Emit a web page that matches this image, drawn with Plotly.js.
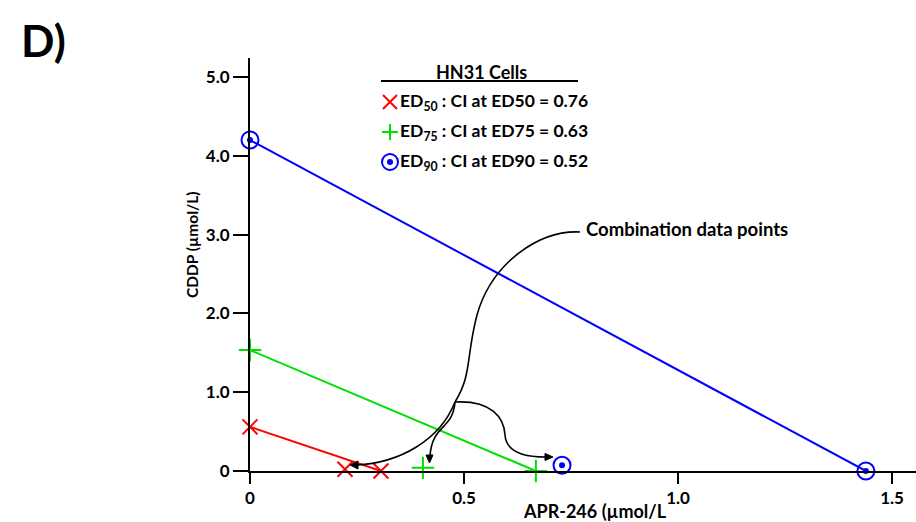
<!DOCTYPE html>
<html>
<head>
<meta charset="utf-8">
<script src="https://cdn.plot.ly/plotly-3.0.1.min.js"></script>
<style>html,body{margin:0;padding:0;background:#fff;}#chart{width:916px;height:522px;}</style>
</head>
<body>
<div id="chart"></div>
<script>
// ---- data (µmol/L) ----
const ed50Apr = [0, 0.306];      // isobologram line ED50: APR-246 alone
const ed50Cddp = [0.56, 0];      // CDDP alone
const ed75Apr = [0, 0.668];
const ed75Cddp = [1.535, 0];
const ed90Apr = [0, 1.439];
const ed90Cddp = [4.2, 0];
const comboApr = [0.222, 0.404, 0.729];   // combination data points ED50, ED75, ED90
const comboCddp = [0.022, 0.040, 0.073];
const ciValues = ['0.76', '0.63', '0.52'];
const edLevels = ['50', '75', '90'];
const yTickVals = [0, 1, 2, 3, 4, 5];
const yTickText = ['0', '1.0', '2.0', '3.0', '4.0', '5.0'];
const xTickVals = [0, 0.5, 1.0, 1.5];
const xTickText = ['0', '0.5', '1.0', '1.5'];

const colors = ['#ff0000', '#00e000', '#0000ff'];
const symbols = ['x-thin-open', 'cross-thin-open', 'circle-open'];
const sizes = [15, 16, 17];

const W = 916, H = 522;
const M = {l: 250, r: 0, t: 58, b: 51};
const pw = W - M.l - M.r, ph = H - M.t - M.b;
const FONT = 'Lato, "Open Sans", sans-serif';
function px(x) { return (x - M.l) / pw; }
function py(y) { return (H - M.b - y) / ph; }
function path(segs) {
  return segs.map(s => {
    const c = s[0]; const pts = [];
    for (let i = 1; i < s.length; i += 2) pts.push(px(s[i]).toFixed(4) + ',' + py(s[i+1]).toFixed(4));
    return c + pts.join(' ');
  }).join(' ');
}
function bold(size) { return {family: FONT, size: size, color: '#000', weight: 'bold'}; }

const lines = [[ed50Apr, ed50Cddp], [ed75Apr, ed75Cddp], [ed90Apr, ed90Cddp]];
const traces = [];
lines.forEach((l, i) => {
  const allX = l[0].concat([comboApr[i]]);
  const allY = l[1].concat([comboCddp[i]]);
  traces.push({
    x: l[0], y: l[1], type: 'scatter', mode: 'lines', cliponaxis: false,
    line: {color: colors[i], width: 2}, hoverinfo: 'skip', showlegend: false
  });
  traces.push({
    x: allX, y: allY, type: 'scatter', mode: 'markers', cliponaxis: false,
    marker: {symbol: symbols[i], size: sizes[i], color: colors[i], line: {color: colors[i], width: 2}},
    hoverinfo: 'skip', showlegend: false
  });
  if (i === 2) {
    traces.push({
      x: allX, y: allY, type: 'scatter', mode: 'markers', cliponaxis: false,
      marker: {symbol: 'circle', size: 6, color: colors[i], line: {width: 0}},
      hoverinfo: 'skip', showlegend: false
    });
  }
});

const shapes = [];
const annotations = [];
// legend header
annotations.push({xref: 'paper', yref: 'paper', x: px(481), y: py(72), text: 'HN31 Cells', showarrow: false,
  font: bold(18), xanchor: 'center', yanchor: 'middle'});
shapes.push({type: 'line', xref: 'paper', yref: 'paper', x0: px(381), x1: px(578), y0: py(81), y1: py(81),
  line: {color: '#000', width: 2}});
const rowsY = [102, 132, 162];
edLevels.forEach((ed, i) => {
  const cy = rowsY[i], cx = 390;
  if (i === 0) {
    shapes.push({type: 'path', xref: 'paper', yref: 'paper', path: path([['M', cx-7, cy-7], ['L', cx+7, cy+7], ['M', cx-7, cy+7], ['L', cx+7, cy-7]]), line: {color: colors[0], width: 2}});
  } else if (i === 1) {
    shapes.push({type: 'path', xref: 'paper', yref: 'paper', path: path([['M', cx-8, cy], ['L', cx+8, cy], ['M', cx, cy-8], ['L', cx, cy+8]]), line: {color: colors[1], width: 2}});
  } else {
    shapes.push({type: 'circle', xref: 'paper', yref: 'paper', x0: px(cx-8), x1: px(cx+8), y0: py(cy-8), y1: py(cy+8), line: {color: colors[2], width: 2}});
    shapes.push({type: 'circle', xref: 'paper', yref: 'paper', x0: px(cx-3), x1: px(cx+3), y0: py(cy-3), y1: py(cy+3), fillcolor: colors[2], line: {color: colors[2], width: 0}});
  }
  annotations.push({xref: 'paper', yref: 'paper', x: px(398), y: py(cy), xanchor: 'left', yanchor: 'middle', showarrow: false,
    text: 'ED<sub>' + ed + '</sub> : CI at ED' + ed + ' = ' + ciValues[i], font: bold(17.5)});
});

// combination annotation
annotations.push({xref: 'paper', yref: 'paper', x: px(584), y: py(229), xanchor: 'left', yanchor: 'middle', showarrow: false,
  text: 'Combination data points', font: bold(18.5)});
const blk = {color: '#000', width: 1.6};
shapes.push({type: 'path', xref: 'paper', yref: 'paper', line: blk,
  path: path([['M', 580, 232], ['C', 540, 230, 492, 262, 477, 315], ['C', 466, 357, 472, 375, 455, 402]])});
shapes.push({type: 'path', xref: 'paper', yref: 'paper', line: blk,
  path: path([['M', 455, 402], ['C', 440, 440, 400, 463, 356, 465]])});
shapes.push({type: 'path', xref: 'paper', yref: 'paper', line: blk,
  path: path([['M', 455, 402], ['C', 453, 430, 432, 424, 430, 456]])});
shapes.push({type: 'path', xref: 'paper', yref: 'paper', line: blk,
  path: path([['M', 455, 402], ['C', 492, 400, 504, 418, 505, 435], ['C', 506, 452, 525, 457, 546, 457]])});
// arrowheads
shapes.push({type: 'path', xref: 'paper', yref: 'paper', fillcolor: '#000', line: {color: '#000', width: 1},
  path: path([['M', 350, 465], ['L', 358, 461], ['L', 358, 469], ['Z']])});
shapes.push({type: 'path', xref: 'paper', yref: 'paper', fillcolor: '#000', line: {color: '#000', width: 1},
  path: path([['M', 429.5, 463], ['L', 426, 455], ['L', 433, 455], ['Z']])});
shapes.push({type: 'path', xref: 'paper', yref: 'paper', fillcolor: '#000', line: {color: '#000', width: 1},
  path: path([['M', 553, 457], ['L', 545, 453.5], ['L', 545, 460.5], ['Z']])});

// axis titles
annotations.push({xref: 'paper', yref: 'paper', x: px(521), y: py(511), xanchor: 'left', yanchor: 'middle', showarrow: false,
  text: 'APR-246 (µmol/L', font: bold(18)});
annotations.push({xref: 'paper', yref: 'paper', x: px(192), y: py(245), xanchor: 'center', yanchor: 'middle', showarrow: false,
  textangle: -90, text: 'CDDP (µmol/L)', font: bold(15.5)});

// panel label
annotations.push({xref: 'paper', yref: 'paper', x: px(19), y: py(40), xanchor: 'left', yanchor: 'middle', showarrow: false,
  text: 'D)', font: bold(44)});

const layout = {
  width: W, height: H, margin: M,
  paper_bgcolor: '#fff', plot_bgcolor: '#fff', showlegend: false,
  xaxis: {range: [0, pw / 428], tickvals: xTickVals, ticktext: xTickText, ticks: 'outside', ticklen: 11, tickwidth: 2,
    tickcolor: '#000', showline: true, linecolor: '#000', linewidth: 2, showgrid: false, zeroline: false,
    tickfont: bold(17)},
  yaxis: {range: [0, ph / 78.8], tickvals: yTickVals, ticktext: yTickText, ticks: 'outside', ticklen: 15, tickwidth: 2,
    tickcolor: '#000', showline: true, linecolor: '#000', linewidth: 2, showgrid: false, zeroline: false,
    tickfont: bold(17)},
  shapes: shapes, annotations: annotations
};
Plotly.newPlot('chart', traces, layout, {displayModeBar: false, staticPlot: true});
</script>
</body>
</html>
